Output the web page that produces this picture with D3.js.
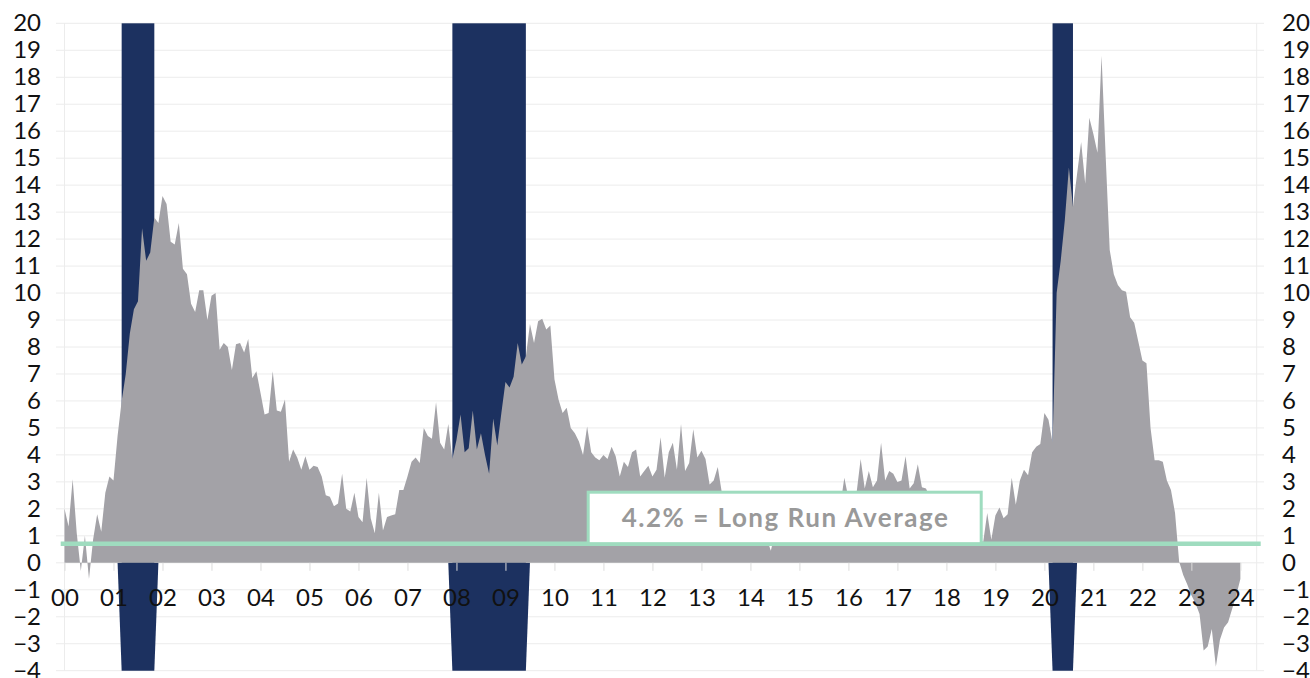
<!DOCTYPE html>
<html>
<head>
<meta charset="utf-8">
<script src="https://cdn.jsdelivr.net/npm/d3@7"></script>
<style>
  html, body { margin: 0; padding: 0; background: #ffffff; }
  svg { display: block; font-family: Lato, "Noto Sans", sans-serif; }
</style>
</head>
<body>
<svg id="chart" width="1310" height="678"></svg>
<script>
// Year-over-year growth (%), monthly, Jan 2000 through Jan 2024
const growth = [
  2.0, 1.35, 3.1, 1.1, -0.3, 1.0, -0.6, 0.85, 1.8, 1.15, 2.6, 3.2,          // 2000
  3.05, 4.7, 6.0, 7.0, 8.5, 9.4, 9.7, 12.4, 11.2, 11.5, 12.8, 12.6,        // 2001
  13.6, 13.3, 11.9, 11.8, 12.6, 10.9, 10.7, 9.6, 9.3, 10.1, 10.1, 9.0,     // 2002
  9.9, 10.0, 7.9, 8.15, 8.0, 7.15, 8.1, 8.15, 7.8, 8.3, 6.85, 7.1,         // 2003
  6.3, 5.5, 5.55, 7.1, 5.65, 5.6, 6.05, 3.75, 4.2, 3.9, 3.45, 3.95,        // 2004
  3.45, 3.6, 3.55, 3.2, 2.5, 2.45, 2.1, 2.2, 3.3, 2.0, 1.9, 2.6,           // 2005
  1.7, 1.5, 3.15, 1.65, 1.1, 2.6, 1.2, 1.7, 1.75, 1.8, 2.7, 2.7,           // 2006
  3.2, 3.75, 3.9, 3.7, 5.0, 4.7, 4.6, 5.95, 4.45, 4.2, 5.15, 3.85,         // 2007
  4.55, 5.5, 4.1, 4.25, 5.65, 4.2, 4.8, 4.0, 3.3, 5.35, 4.35, 5.55,        // 2008
  6.7, 6.5, 6.9, 8.15, 7.35, 7.65, 8.85, 8.15, 8.95, 9.05, 8.65, 8.8,      // 2009
  6.8, 6.05, 5.55, 5.75, 5.0, 4.8, 4.5, 4.0, 5.05, 4.1, 3.9, 3.8,          // 2010
  4.0, 3.85, 4.3, 3.95, 3.2, 3.75, 3.55, 4.1, 4.2, 3.2, 3.4, 3.6,          // 2011
  3.2, 3.45, 4.65, 3.15, 4.1, 4.45, 3.45, 5.15, 3.4, 3.7, 4.95, 3.9,       // 2012
  4.15, 3.85, 2.9, 3.05, 3.55, 2.6, 2.2, 1.9, 2.3, 1.6, 1.8, 1.5,          // 2013
  1.9, 1.4, 1.2, 1.3, 0.9, 0.45, 1.1, 1.3, 1.0, 1.5, 1.2, 1.4,             // 2014
  1.1, 1.6, 1.3, 1.7, 1.5, 1.9, 1.6, 2.0, 1.8, 2.3, 2.1, 3.15,             // 2015
  2.4, 2.5, 2.6, 3.85, 2.75, 3.4, 2.8, 3.05, 4.45, 3.05, 3.4, 3.3,         // 2016
  3.0, 3.05, 3.95, 2.75, 2.95, 3.65, 2.8, 2.75, 2.4, 2.2, 2.5, 2.1,        // 2017
  1.9, 2.3, 1.7, 1.5, 1.8, 1.3, 1.1, 1.4, 1.0, 0.75, 1.85, 0.85,           // 2018
  1.75, 2.05, 1.65, 1.8, 3.15, 2.15, 3.05, 3.45, 3.25, 4.1, 4.3, 4.4,      // 2019
  5.55, 5.3, 4.45, 10.0, 11.2, 12.7, 14.65, 13.2, 14.4, 15.6, 14.05, 16.5, // 2020
  15.9, 15.2, 18.8, 15.1, 11.6, 10.7, 10.3, 10.1, 10.05, 9.1, 8.9, 8.2,    // 2021
  7.5, 7.4, 5.0, 3.8, 3.8, 3.75, 3.05, 2.7, 1.85, 0.05, -0.45, -0.8,       // 2022
  -1.2, -1.5, -1.9, -3.25, -3.1, -2.45, -3.85, -2.85, -2.4, -2.2, -1.7, -1.2, // 2023
  -0.6                                                                     // 2024
];

// Recessions as [first month, last month], counted in months from Jan 2000
const recessions = [[14, 22], [95, 113], [242, 247]];

// Year tick labels, one per January
const yearLabels = ["00", "01", "02", "03", "04", "05", "06", "07", "08", "09", "10", "11",
                    "12", "13", "14", "15", "16", "17", "18", "19", "20", "21", "22", "23", "24"];

// Value axis ticks
const yTicks = [-4, -3, -2, -1, 0, 1, 2, 3, 4, 5, 6, 7, 8, 9, 10, 11, 12, 13, 14, 15, 16, 17, 18, 19, 20];

// Reference line and its caption
const avgLevel = 0.71;
const avgCaption = "4.2% = Long Run Average";

// ---------------------------------------------------------------------------
const svg = d3.select("#chart");
const navy = "#1c3160";
const grey = "#a3a2a7";
const mint = "#9fdcbf";
const gridColor = "#ececec";

const x = d3.scaleLinear().domain([0, 292]).range([64.5, 1256.7]);
const y = d3.scaleLinear().domain([-4, 20]).range([670.7, 23.3]);

// horizontal grid lines, slightly overhanging the plot on both sides
svg.append("g").selectAll("line").data(yTicks).join("line")
  .attr("x1", 56).attr("x2", 1264)
  .attr("y1", d => y(d)).attr("y2", d => y(d))
  .attr("stroke", gridColor).attr("stroke-width", 1);

// plot side borders
svg.append("g").selectAll("line").data(x.domain()).join("line")
  .attr("x1", d => x(d)).attr("x2", d => x(d))
  .attr("y1", y(20)).attr("y2", y(-4))
  .attr("stroke", gridColor).attr("stroke-width", 1);

// recession shading: full-height block above zero, tapered block below zero
const recG = svg.append("g");
recessions.forEach(([s, e]) => {
  recG.append("rect")
    .attr("x", x(s)).attr("width", x(e) - x(s))
    .attr("y", y(20)).attr("height", y(0) - y(20))
    .attr("fill", navy);
  const pts = [[s - 1, 0]];
  for (let m = s; m <= e; m++) pts.push([m, -4]);
  pts.push([e + 1, 0]);
  recG.append("path")
    .attr("d", d3.area().x(d => x(d[0])).y0(y(0)).y1(d => y(d[1]))(pts))
    .attr("fill", navy);
});

// growth series
svg.append("path")
  .datum(growth)
  .attr("d", d3.area().x((d, i) => x(i)).y0(y(0)).y1(d => y(d)))
  .attr("fill", grey);

// x axis: year ticks hanging below the zero line
const xAxis = svg.append("g")
  .attr("transform", `translate(0,${y(0)})`)
  .call(d3.axisBottom(x)
    .tickValues(d3.range(0, yearLabels.length * 12, 12))
    .tickFormat((d, i) => yearLabels[i])
    .tickSize(8).tickPadding(18));
xAxis.select(".domain").remove();
xAxis.selectAll(".tick line").attr("stroke", "#dcdcdc");
xAxis.selectAll(".tick text")
  .attr("font-size", 24).attr("fill", "#111").attr("font-family", "Lato, 'Noto Sans', sans-serif");

// long-run average line
svg.append("line")
  .attr("x1", 60.7).attr("x2", 1260.7)
  .attr("y1", y(avgLevel)).attr("y2", y(avgLevel))
  .attr("stroke", mint).attr("stroke-width", 4.5);

// caption box sitting on the average line
const boxLeft = 588.2, boxRight = 981.2, boxTop = 492.2;
svg.append("rect")
  .attr("x", boxLeft).attr("y", boxTop)
  .attr("width", boxRight - boxLeft).attr("height", y(avgLevel) - boxTop)
  .attr("fill", "#ffffff").attr("stroke", mint).attr("stroke-width", 3);
svg.append("text")
  .attr("x", (boxLeft + boxRight) / 2 + 0.8).attr("y", 527)
  .attr("text-anchor", "middle")
  .attr("font-size", 26).attr("font-weight", 700).attr("fill", "#999999")
  .attr("letter-spacing", 1.5)
  .text(avgCaption);

// value axes on both sides
const yLeft = svg.append("g").attr("transform", "translate(44,0)")
  .call(d3.axisLeft(y).tickValues(yTicks).tickSize(0).tickPadding(3));
const yRight = svg.append("g").attr("transform", "translate(1279,0)")
  .call(d3.axisRight(y).tickValues(yTicks).tickSize(0).tickPadding(3));
[yLeft, yRight].forEach(g => {
  g.select(".domain").remove();
  g.selectAll(".tick text")
    .attr("font-size", 24).attr("fill", "#111").attr("font-family", "Lato, 'Noto Sans', sans-serif");
});
</script>
</body>
</html>
